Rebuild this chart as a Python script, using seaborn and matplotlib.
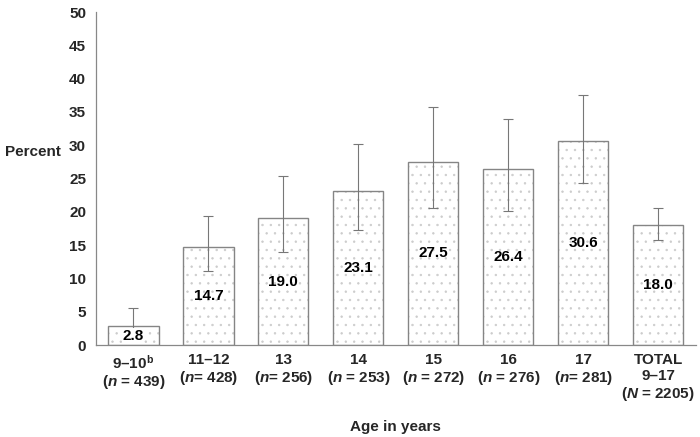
import matplotlib
matplotlib.use("Agg")
import matplotlib.pyplot as plt
import seaborn as sns
import pandas as pd
import numpy as np

# data
groups = ["9-10", "11-12", "13", "14", "15", "16", "17", "TOTAL"]
tick_labels = [
    "9\u201310$^{\\mathregular{b}}$\n($\\mathit{n}$ = 439)",
    "11\u201312\n($\\mathit{n}$= 428)",
    "13\n($\\mathit{n}$= 256)",
    "14\n($\\mathit{n}$ = 253)",
    "15\n($\\mathit{n}$ = 272)",
    "16\n($\\mathit{n}$ = 276)",
    "17\n($\\mathit{n}$= 281)",
    "TOTAL\n9\u201317\n($\\mathit{N}$ = 2205)",
]
percent = [2.8, 14.7, 19.0, 23.1, 27.5, 26.4, 30.6, 18.0]
ci_low = [1.3, 11.1, 14.0, 17.3, 20.5, 20.1, 24.4, 15.8]
ci_high = [5.6, 19.4, 25.4, 30.2, 35.8, 34.0, 37.6, 20.5]

sns.set_style("white")
plt.rcParams["font.family"] = ["Liberation Sans", "DejaVu Sans"]
plt.rcParams["font.weight"] = "bold"
plt.rcParams["mathtext.fontset"] = "custom"
plt.rcParams["mathtext.rm"] = "Liberation Sans:bold"
plt.rcParams["mathtext.it"] = "Liberation Sans:bold:italic"
plt.rcParams["hatch.linewidth"] = 0.5

df = pd.DataFrame({"group": groups, "percent": percent})

fig = plt.figure(figsize=(7, 4.37), dpi=100)
ax = fig.add_axes([0.137, 0.2105, 0.857, 0.762])

# dotted fill (light hatch) first, then the grey outline on top
sns.barplot(data=df, x="group", y="percent", color="white", width=0.67,
            edgecolor="#cccccc", linewidth=0, ax=ax)
for p in ax.patches:
    p.set_hatch("..")
    p.set_facecolor("white")
sns.barplot(data=df, x="group", y="percent", fill=False, width=0.67,
            edgecolor="#858585", linewidth=1.0, ax=ax)

x = np.arange(len(groups))
yerr = [np.array(percent) - np.array(ci_low), np.array(ci_high) - np.array(percent)]
ax.errorbar(x, percent, yerr=yerr, fmt="none", ecolor="#777777",
            elinewidth=0.8, capsize=3.5, capthick=0.8, zorder=3)

# value labels in the middle of each bar
for xi, v in zip(x, percent):
    ax.text(xi, v / 2, f"{v:.1f}", ha="center", va="center", fontsize=11,
            fontweight="bold", color="black", zorder=4,
            bbox=dict(facecolor="white", edgecolor="none", pad=0.3) if v < 5 else None)

ax.set_xlim(-0.5, len(groups) - 0.5)
ax.set_ylim(0, 50)
ax.set_yticks(range(0, 51, 5))
ax.set_xticks(x)
ax.set_xticklabels(tick_labels, fontsize=11, fontweight="bold", linespacing=1.15)
ax.set_xticks(np.arange(len(groups) + 1) - 0.5, minor=True)
ax.tick_params(axis="x", which="major", length=0, pad=6)
ax.tick_params(axis="x", which="minor", length=4, color="#888888", direction="out")
ax.tick_params(axis="y", length=4, color="#888888", direction="out", labelsize=11, pad=3)
for lab in ax.get_yticklabels():
    lab.set_fontweight("bold")

for s in ["top", "right"]:
    ax.spines[s].set_visible(False)
for s in ["left", "bottom"]:
    ax.spines[s].set_color("#888888")
    ax.spines[s].set_linewidth(0.9)

ax.set_xlabel("Age in years", fontsize=11, fontweight="bold", labelpad=12)
ax.set_ylabel("")
fig.text(0.007, 0.652, "Percent", fontsize=11, fontweight="bold", va="center")

fig.savefig("out.png", dpi=100)
